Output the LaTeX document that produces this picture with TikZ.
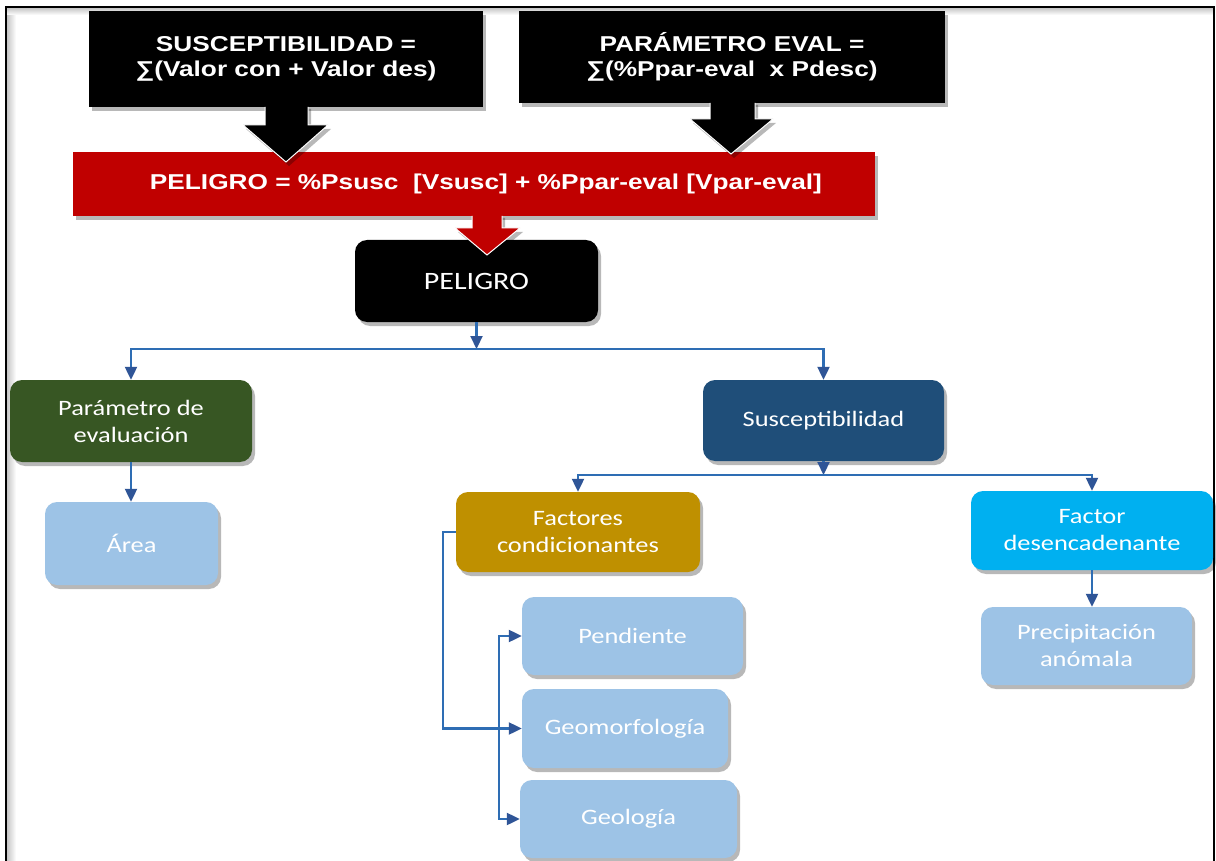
\documentclass[tikz,border=0pt]{standalone}
\usepackage{fontspec}
\newfontfamily\arialfont[FakeStretch=1.22]{Liberation Sans}
\newfontfamily\calfont[FakeStretch=1.2]{Carlito}
\usetikzlibrary{arrows.meta,shadows}

\definecolor{redbar}{HTML}{C00000}
\definecolor{greenbox}{HTML}{375623}
\definecolor{navybox}{HTML}{1F4E79}
\definecolor{goldbox}{HTML}{BF9000}
\definecolor{cyanbox}{HTML}{00B0F0}
\definecolor{palebox}{HTML}{9DC3E6}
\definecolor{linkline}{HTML}{2E6DB4}
\definecolor{linktip}{HTML}{2F5597}

\tikzset{
  softshadow/.style={drop shadow={shadow xshift=3pt,shadow yshift=-4pt,opacity=0.28,fill=black}},
  formulatext/.style={text=white,inner sep=0pt,align=center,
    font=\arialfont\bfseries\fontsize{21.5}{25}\selectfont},
  formula/.style={formulatext,fill=black,softshadow},
  roundbox/.style={rounded corners=12pt,inner sep=0pt,align=center,text=white,softshadow,
    font=\calfont\fontsize{22}{27}\selectfont},
  conn/.style={draw=linkline,line width=2.2pt,-{Triangle[length=13pt,width=12pt,color=linktip]}},
  blockedge/.style={draw=white,line width=1pt,line join=miter}
}

\begin{document}
\begin{tikzpicture}[x=1pt,y=-1pt]
\useasboundingbox (0,0) rectangle (1216,861);
\fill[white] (0,0) rectangle (1216,861);

% page frame with its inner shade
\shade[left color=black!22,right color=white] (7,8) rectangle (16,861);
\shade[top color=black!22,bottom color=white] (7,8) rectangle (1213,15);
\draw[line width=2.2pt] (6,861) -- (6,7) -- (1214,7) -- (1214,861);

% formula boxes
\node[formula,minimum width=394,minimum height=96] (fsus) at (286,59)
  {SUSCEPTIBILIDAD =\\∑(Valor con + Valor des)};
\node[formula,minimum width=426,minimum height=92] (fpar) at (732,57)
  {PARÁMETRO EVAL =\\∑(\%Ppar-eval\ \ x Pdesc)};
\node[formula,fill=redbar,minimum width=802,minimum height=64] (fpel) at (474,184) {};
\node[formulatext] (fpeltext) at (486,184)
  {PELIGRO = \%Psusc\ \ [Vsusc] + \%Ppar-eval [Vpar-eval]};

% block arrows into the hazard formula
\fill[black,softshadow] (265,105) -- (265,125) -- (243,125) -- (286,162) -- (328,125) -- (308,125) -- (308,105) -- cycle;
\draw[blockedge] (265,107) -- (265,125) -- (243,125) -- (286,162) -- (328,125) -- (308,125) -- (308,107);
\fill[black,softshadow] (710,101) -- (710,119) -- (690,119) -- (731,154) -- (773,119) -- (755,119) -- (755,101) -- cycle;
\draw[blockedge] (710,103) -- (710,119) -- (690,119) -- (731,154) -- (773,119) -- (755,119) -- (755,103);

% hazard node
\node[roundbox,fill=black,minimum width=243,minimum height=82,
  font=\calfont\fontsize{25}{30}\selectfont] (pel) at (476.5,281) {PELIGRO};

\fill[redbar,softshadow] (472,214) -- (472,228) -- (455,228) -- (487,255) -- (520,228) -- (502,228) -- (502,214) -- cycle;
\draw[blockedge] (472,216) -- (472,228) -- (455,228) -- (487,255) -- (520,228) -- (502,228) -- (502,216);

% second level
\node[roundbox,fill=greenbox,minimum width=242,minimum height=82] (par) at (131,421)
  {Parámetro de\\evaluación};
\node[roundbox,fill=navybox,minimum width=241,minimum height=81] (sus) at (823.5,420.5)
  {Susceptibilidad};

% third level
\node[roundbox,fill=palebox,minimum width=173,minimum height=83] (area) at (131.5,543.5) {Área};
\node[roundbox,fill=goldbox,minimum width=244,minimum height=80] (fac) at (578,532)
  {Factores\\condicionantes};
\node[roundbox,fill=cyanbox,minimum width=242,minimum height=79] (fd) at (1092,530.5)
  {Factor\\desencadenante};

% leaves
\node[roundbox,fill=palebox,minimum width=211,minimum height=78] (pre) at (1086.5,646)
  {Precipitación\\anómala};
\node[roundbox,fill=palebox,minimum width=221,minimum height=78] (pen) at (632.5,636) {Pendiente};
\node[roundbox,fill=palebox,minimum width=206,minimum height=79] (geom) at (625,728.5) {Geomorfología};
\node[roundbox,fill=palebox,minimum width=217,minimum height=78] (geol) at (628.5,819) {Geología};

% connectors
\coordinate (bus1) at (476.5,349);
\coordinate (bus2) at (823.5,475);
\coordinate (fl) at (443,532);
\coordinate (vb) at (499,729);

\draw[conn] (pel.south) -- (bus1);
\draw[conn] (bus1) -| (par.north);
\draw[conn] (bus1) -| (sus.north);
\draw[conn] (par.south) -- (par.south |- area.north);

\draw[conn] (sus.south) -- (bus2);
\draw[conn] (bus2) -| (fac.north);
\draw[conn] (bus2) -| (fd.north);
\draw[conn] (fd.south) -- (fd.south |- pre.north);

\draw[conn] (fac.west) -- (fl) |- (geom.west);
\draw[conn] (vb) |- (pen.west);
\draw[conn] (vb) |- (geol.west);
\end{tikzpicture}
\end{document}
